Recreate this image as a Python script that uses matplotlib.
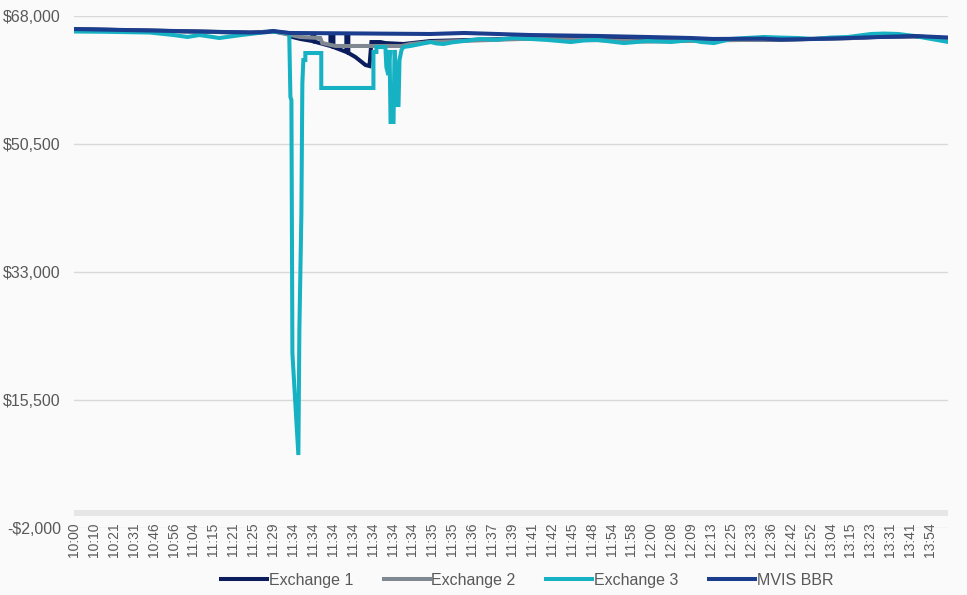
import matplotlib
matplotlib.use("Agg")
import matplotlib.pyplot as plt
from matplotlib.ticker import FuncFormatter

plt.rcParams['font.family'] = ['Liberation Sans', 'DejaVu Sans']

# x = sample position along the category axis (10 samples per time label)
time_labels = ['10:00', '10:10', '10:21', '10:31', '10:46', '10:56', '11:04', '11:15',
               '11:21', '11:25', '11:29', '11:34', '11:34', '11:34', '11:34', '11:34',
               '11:34', '11:34', '11:35', '11:35', '11:36', '11:37', '11:39', '11:41',
               '11:42', '11:45', '11:48', '11:54', '11:58', '12:00', '12:08', '12:09',
               '12:13', '12:25', '12:33', '12:36', '12:42', '12:52', '13:04', '13:15',
               '13:23', '13:31', '13:41', '13:54']
samples_per_label = 10

ex1_x = [0, 38, 63, 89, 100, 108.7, 109.7, 113.7, 119.7, 119.7, 120.7, 120.7, 128.8, 128.8,
         130.3, 130.3, 136.8, 136.8, 137.8, 137.8, 141.3, 146.4, 148.4, 149.4, 153.9, 156.4,
         165.5, 179.1, 196, 229, 263, 288, 310, 330, 355, 389, 405, 422, 439]
ex1_y = [66200, 66000, 65860, 65720, 65900, 65540, 65130, 64860, 64580, 65400, 65400, 64500,
         63900, 65400, 65400, 63760, 63080, 65400, 65400, 62950, 62400, 61300, 61160, 64440,
         64440, 64300, 64170, 64580, 64700, 64950, 64800, 64650, 64750, 64800, 64750, 65000,
         65150, 65200, 64950]

ex2_x = [0, 38, 63, 89, 100, 108.7, 113.7, 123.7, 124.7, 131.3, 164.5, 169, 179.1, 196, 229,
         263, 288, 310, 330, 355, 389, 405, 422, 439]
ex2_y = [66200, 66000, 65860, 65720, 65900, 65400, 65130, 64990, 64300, 63900, 63900, 64170,
         64450, 64600, 64900, 64700, 64500, 64600, 64700, 64800, 64950, 65200, 65250, 64900]

ex3_x = [0, 13, 23, 38, 50, 57, 63, 73, 84, 99, 107.1, 108.1, 108.7, 109.2, 109.7, 112.7,
         113.2, 114.2, 114.7, 115.2, 116.2, 116.2, 124.2, 124.2, 150.4, 150.4, 151.9, 151.9,
         156.4, 156.9, 157.9, 158.5, 159.0, 160.5, 161.0, 162.0, 162.5, 163.0, 163.5, 164.5,
         165.5, 169, 174, 179.1, 182, 185.6, 190, 195.7, 204.2, 212, 220.8, 229.4, 237.9,
         243, 249.5, 256, 263.1, 270, 276.2, 288.2, 299.8, 309.9, 314.9, 321.4, 330, 338,
         346.6, 355, 363.7, 371.7, 380, 388.8, 395, 400.4, 407, 414, 422, 430.6, 439.1]
ex3_y = [65880, 65850, 65810, 65740, 65400, 65130, 65400, 64990, 65400, 65880, 65700, 65650,
         56930, 56500, 21900, 7980, 25070, 40800, 58840, 61980, 61980, 62940, 62940, 58160,
         58160, 63080, 63080, 63760, 63760, 61000, 59930, 63350, 53510, 53510, 63350, 59660,
         55830, 55830, 62000, 63350, 63760, 63900, 64170, 64440, 64250, 64170, 64400, 64580,
         64860, 64750, 64990, 64860, 64720, 64600, 64440, 64650, 64720, 64500, 64300, 64580,
         64450, 64720, 64450, 64300, 64860, 65000, 65130, 65050, 64990, 64860, 65050, 65130,
         65350, 65540, 65600, 65540, 65270, 64860, 64450]

mvis_x = [0, 13, 38, 63, 89, 97, 100, 103, 108, 150, 179, 196, 229, 263, 288, 310, 321, 346,
          355, 372, 389, 405, 422, 439]
mvis_y = [66220, 66150, 66020, 65880, 65740, 65800, 65950, 65850, 65680, 65600, 65540, 65680,
          65400, 65270, 65130, 64990, 64860, 64900, 64790, 64860, 64990, 65130, 65270, 65060]

y_ticks = [-2000, 15500, 33000, 50500, 68000]

fig = plt.figure(figsize=(9.67, 5.95), dpi=100, facecolor='#fafafa')
ax = fig.add_axes([74 / 967, 1 - 528 / 595, (948 - 74) / 967, (528 - 16) / 595])
ax.set_facecolor('#fafafa')

lw = 2.9
ax.plot(ex1_x, ex1_y, color='#0b1d5c', lw=lw, label='Exchange 1', solid_joinstyle='miter')
ax.plot(ex2_x, ex2_y, color='#7f8791', lw=lw, label='Exchange 2', solid_joinstyle='miter')
ax.plot(ex3_x, ex3_y, color='#16b1c2', lw=lw, label='Exchange 3', solid_joinstyle='miter')
ax.plot(mvis_x, mvis_y, color='#1b3d8e', lw=lw, label='MVIS BBR', solid_joinstyle='miter')

ax.axhline(0, color='#e6e6e6', lw=4.3, zorder=0.5)

ax.set_ylim(-2000, 68000)
ax.set_xlim(0, 439)
ax.set_yticks(y_ticks)
ax.yaxis.set_major_formatter(FuncFormatter(
    lambda v, p: ('-$' if v < 0 else '$') + format(abs(int(v)), ',')))
ax.grid(axis='y', color='#d9d9d9', lw=1)
ax.set_axisbelow(True)

ax.set_xticks([i * samples_per_label for i in range(len(time_labels))])
ax.set_xticklabels(time_labels, rotation=90, fontsize=10, color='#595959')
ax.tick_params(axis='x', length=0, pad=-4)
ax.tick_params(axis='y', length=0, pad=9.5, labelsize=11.5, labelcolor='#595959')
for s in ax.spines.values():
    s.set_visible(False)

leg = fig.legend(loc='lower center', ncol=4, frameon=False, fontsize=11.5,
                 bbox_to_anchor=(0.545, -0.012), handlelength=2.9, handletextpad=0.1,
                 columnspacing=1.9)
for t in leg.get_texts():
    t.set_color('#595959')

fig.savefig('out.png', dpi=100, facecolor=fig.get_facecolor())
